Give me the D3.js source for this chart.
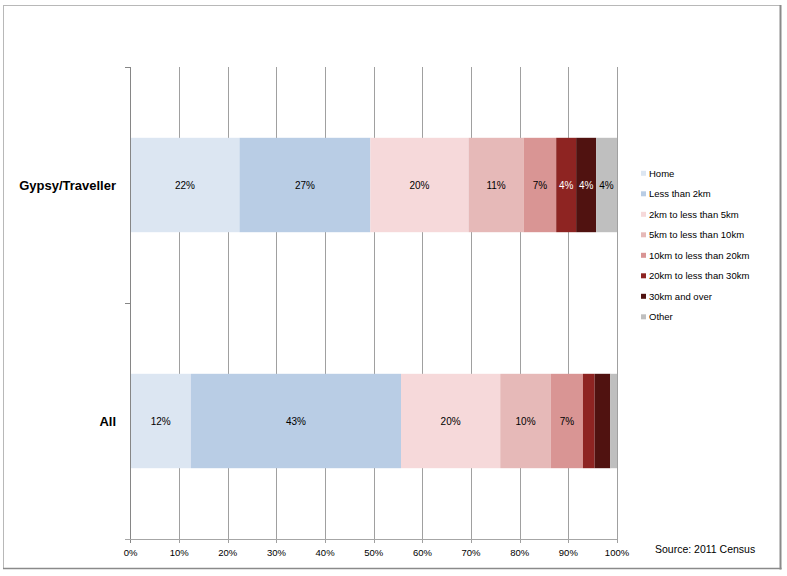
<!DOCTYPE html>
<html>
<head>
<meta charset="utf-8">
<script src="https://cdn.jsdelivr.net/npm/d3@7"></script>
<style>
  html, body { margin: 0; padding: 0; background: #fff; }
  svg { display: block; font-family: "Liberation Sans", Arial, sans-serif; }
</style>
</head>
<body>
<svg id="chart" width="787" height="576"></svg>
<script>
const categories = ["Gypsy/Traveller", "All"];
const seriesNames = ["Home", "Less than 2km", "2km to less than 5km", "5km to less than 10km",
  "10km to less than 20km", "20km to less than 30km", "30km and over", "Other"];
const gypsyValues = [22.4, 26.9, 20.2, 11.3, 6.7, 4.1, 4.1, 4.3];
const allValues = [12.4, 43.2, 20.4, 10.4, 6.6, 2.4, 3.2, 1.4];
const xTicks = [0, 10, 20, 30, 40, 50, 60, 70, 80, 90, 100];
const colors = ["#dce6f2", "#b9cde5", "#f6d9da", "#e6b9b8", "#d99594", "#8e2422", "#501210", "#bfbfbf"];
const labelColors = ["#000", "#000", "#000", "#000", "#000", "#fff", "#fff", "#000"];
const sourceText = "Source: 2011 Census";

const valuesByCat = { "Gypsy/Traveller": gypsyValues, "All": allValues };

const svg = d3.select("#chart");

// outer frame
svg.append("line").attr("x1", 3).attr("x2", 781).attr("y1", 5.5).attr("y2", 5.5).attr("stroke", "#b8b8b8");
svg.append("line").attr("x1", 3.5).attr("x2", 3.5).attr("y1", 5).attr("y2", 569).attr("stroke", "#b8b8b8");
svg.append("line").attr("x1", 780.5).attr("x2", 780.5).attr("y1", 5).attr("y2", 569.5).attr("stroke", "#8a8a8a").attr("stroke-width", 2);
svg.append("line").attr("x1", 3).attr("x2", 781.5).attr("y1", 568.5).attr("y2", 568.5).attr("stroke", "#8a8a8a").attr("stroke-width", 1.5);

const x = d3.scaleLinear().domain([0, 100]).range([130.5, 617]);
const y = d3.scaleBand().domain(categories).range([67, 539]).paddingInner(0.6).paddingOuter(0.3);
const plotTop = 67, plotBottom = 539;

// gridlines
svg.append("g").selectAll("line").data(xTicks.filter(d => d > 0)).join("line")
  .attr("x1", d => Math.round(x(d)) + 0.5).attr("x2", d => Math.round(x(d)) + 0.5)
  .attr("y1", plotTop).attr("y2", plotBottom + 4)
  .attr("stroke", "#a0a0a0").attr("stroke-width", 1);

// stacked data
const rows = categories.map(c => {
  const o = { cat: c };
  seriesNames.forEach((s, i) => o[s] = valuesByCat[c][i]);
  return o;
});
const stacked = d3.stack().keys(seriesNames)(rows);

const gBars = svg.append("g");
stacked.forEach((layer, i) => {
  gBars.append("g").attr("fill", colors[i]).selectAll("rect").data(layer).join("rect")
    .attr("x", d => x(d[0]))
    .attr("width", d => x(d[1]) - x(d[0]))
    .attr("y", d => y(d.data.cat))
    .attr("height", y.bandwidth());
});

// bar labels
stacked.forEach((layer, i) => {
  svg.append("g").selectAll("text").data(layer.filter(d => d[1] - d[0] >= 3.5)).join("text")
    .attr("x", d => (x(d[0]) + x(d[1])) / 2)
    .attr("y", d => y(d.data.cat) + y.bandwidth() / 2)
    .attr("dy", "0.35em")
    .attr("text-anchor", "middle")
    .attr("font-size", 10)
    .attr("fill", labelColors[i])
    .text(d => Math.round(d[1] - d[0]) + "%");
});

// y axis
const ax = "#868686";
svg.append("line").attr("x1", 130.5).attr("x2", 130.5).attr("y1", plotTop).attr("y2", plotBottom + 4).attr("stroke", ax);
const bounds = [plotTop, y(categories[1]) - (y.step() - y.bandwidth()) / 2, plotBottom];
svg.append("g").selectAll("line").data(bounds).join("line")
  .attr("x1", 125).attr("x2", 130.5)
  .attr("y1", d => Math.round(d) + 0.5).attr("y2", d => Math.round(d) + 0.5)
  .attr("stroke", ax);
svg.append("g").selectAll("text").data(categories).join("text")
  .attr("x", 116)
  .attr("y", d => y(d) + y.bandwidth() / 2)
  .attr("dy", "0.35em")
  .attr("text-anchor", "end")
  .attr("font-size", 13)
  .attr("font-weight", "bold")
  .attr("fill", "#000")
  .text(d => d);

// x axis
svg.append("line").attr("x1", 125).attr("x2", x(100)).attr("y1", plotBottom + 0.5).attr("y2", plotBottom + 0.5).attr("stroke", "#a6a6a6");
svg.append("g").selectAll("text").data(xTicks).join("text")
  .attr("x", d => x(d))
  .attr("y", 553)
  .attr("dy", "0.35em")
  .attr("text-anchor", "middle")
  .attr("font-size", 9.5)
  .attr("fill", "#000")
  .text(d => d + "%");

// legend
const leg = svg.append("g").selectAll("g").data(seriesNames).join("g")
  .attr("transform", (d, i) => `translate(641, ${173.3 + i * 20.5})`);
leg.append("rect").attr("x", 0).attr("y", -2.5).attr("width", 5).attr("height", 5).attr("fill", (d, i) => colors[i]);
leg.append("text").attr("x", 8).attr("y", 0).attr("dy", "0.35em").attr("font-size", 9.5).attr("fill", "#000").text(d => d);

// source
svg.append("text").attr("x", 655).attr("y", 549).attr("dy", "0.35em").attr("font-size", 10.5).attr("fill", "#000").text(sourceText);
</script>
</body>
</html>
